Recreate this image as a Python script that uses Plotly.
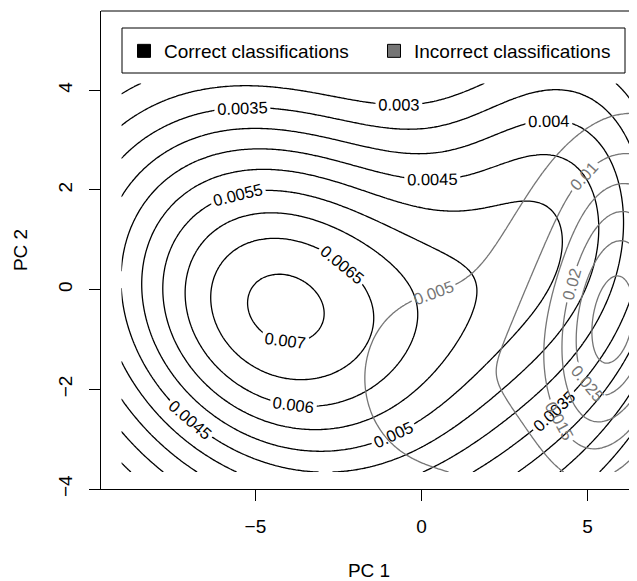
import numpy as np
import plotly.graph_objects as go

# ---- data: density-estimate grid extent (PC space) ----
grid_x_limits = [-9.04, 6.27]
grid_y_limits = [-3.66, 4.14]

# ---- correct classifications: Gaussian mixture components ----
correct_mean_x = [-4.05, -5.0, 4.75]
correct_mean_y = [-0.42, -0.3, 2.0]
correct_sd_x = [5.4, 2.0, 3.1]
correct_sd_y = [3.5, 1.3, 3.2]
correct_rho = [-0.2, 0.0, 0.0]
correct_peak = [0.00685, 0.0003, 0.0036]
correct_levels = [0.002, 0.007, 0.0005]   # start, end, step

# ---- incorrect classifications: Gaussian mixture components ----
incorrect_mean_x = [5.0, 5.3, 6.5, -0.2, 5.6]
incorrect_mean_y = [-0.75, -0.65, -0.6, -1.75, 1.9]
incorrect_sd_x = [2.6, 0.9, 1.0, 1.5, 1.3]
incorrect_sd_y = [2.5, 1.8, 1.8, 1.3, 1.0]
incorrect_rho = [0.3, 0.3, 0.3, 0.0, 0.0]
incorrect_peak = [0.014, 0.0115, 0.0125, 0.0075, 0.0022]
incorrect_levels = [0.005, 0.035, 0.005]

x_ticks = [-5, 0, 5]
y_ticks = [-4, -2, 0, 2, 4]
legend_names = ["Correct classifications", "Incorrect classifications"]

gx = np.linspace(grid_x_limits[0], grid_x_limits[1], 240)
gy = np.linspace(grid_y_limits[0], grid_y_limits[1], 180)
GX, GY = np.meshgrid(gx, gy)


def mixture(mx, my, sx, sy, rho, peak):
    z = np.zeros_like(GX)
    for a, b, s1, s2, r, p in zip(mx, my, sx, sy, rho, peak):
        dx = (GX - a) / s1
        dy = (GY - b) / s2
        q = (dx * dx + dy * dy - 2 * r * dx * dy) / (1 - r * r)
        z += p * np.exp(-0.5 * q)
    return z


z_correct = mixture(correct_mean_x, correct_mean_y, correct_sd_x,
                    correct_sd_y, correct_rho, correct_peak)
z_incorrect = mixture(incorrect_mean_x, incorrect_mean_y, incorrect_sd_x,
                      incorrect_sd_y, incorrect_rho, incorrect_peak)

BLACK = "#000000"
GREY = "#757575"
FONT = "Liberation Sans, Arial, Helvetica, sans-serif"

fig = go.Figure()
fig.add_trace(go.Contour(
    x=gx, y=gy, z=z_correct, showscale=False, hoverinfo="skip",
    contours=dict(coloring="none", start=correct_levels[0],
                  end=correct_levels[1], size=correct_levels[2],
                  showlabels=True, labelformat=".4~f",
                  labelfont=dict(size=16.5, color=BLACK, family=FONT)),
    line=dict(color=BLACK, width=1.3),
    showlegend=False))
fig.add_trace(go.Contour(
    x=gx, y=gy, z=z_incorrect, showscale=False, hoverinfo="skip",
    contours=dict(coloring="none", start=incorrect_levels[0],
                  end=incorrect_levels[1], size=incorrect_levels[2],
                  showlabels=True, labelformat=".3~f",
                  labelfont=dict(size=16.5, color=GREY, family=FONT)),
    line=dict(color=GREY, width=1.3),
    showlegend=False))

# legend entries
for name, col in zip(legend_names, [BLACK, GREY]):
    fig.add_trace(go.Scatter(
        x=[None], y=[None], mode="markers", name=name,
        marker=dict(symbol="square", size=13, color=col,
                    line=dict(color=BLACK, width=1))))

# page has an 8px body margin; figure is laid out in page pixels
OFF = 8
W, H = 637 - OFF, 581 - OFF
L, R, T, B = 101 - OFF, 0, 11 - OFF, 92
pw, ph = W - L - R, H - T - B


def px_to_paper_x(px):
    return (px - OFF - L) / pw


def px_to_paper_y(py):
    return (H - B - (py - OFF)) / ph


fig.update_layout(
    width=W, height=H,
    margin=dict(l=L, r=R, t=T, b=B, pad=0, autoexpand=False),
    paper_bgcolor="white", plot_bgcolor="white",
    font=dict(family=FONT, size=19, color="black"),
    showlegend=True,
    legend=dict(orientation="h", x=px_to_paper_x(124), y=px_to_paper_y(51),
                xanchor="left", yanchor="middle", bgcolor="rgba(0,0,0,0)",
                borderwidth=0, font=dict(size=19), entrywidth=205,
                itemclick=False),
    xaxis=dict(range=[-9.65, 6.49], tickvals=x_ticks, showgrid=False,
               zeroline=False, showline=True, linecolor="black", linewidth=1,
               ticks="outside", ticklen=11, tickwidth=1, tickcolor="black",
               ticklabelstandoff=9, tickfont=dict(size=19), automargin=False,
               title=dict(text="PC 1", font=dict(size=19), standoff=29)),
    yaxis=dict(range=[-4.0, 5.59], tickvals=y_ticks, showgrid=False,
               zeroline=False, showline=True, linecolor="black", linewidth=1,
               ticks="outside", ticklen=11, tickwidth=1, tickcolor="black",
               tickangle=-90, ticklabelstandoff=9, tickfont=dict(size=19),
               automargin=False,
               title=dict(text="PC 2", font=dict(size=19), standoff=22)),
    shapes=[
        dict(type="line", xref="paper", yref="paper", x0=0, x1=1, y0=1, y1=1,
             line=dict(color="black", width=1)),
        dict(type="rect", xref="paper", yref="paper",
             x0=px_to_paper_x(122), x1=px_to_paper_x(625),
             y0=px_to_paper_y(73), y1=px_to_paper_y(28),
             line=dict(color="black", width=1), fillcolor="white",
             layer="above"),
    ],
)

fig.write_html("out.html")
